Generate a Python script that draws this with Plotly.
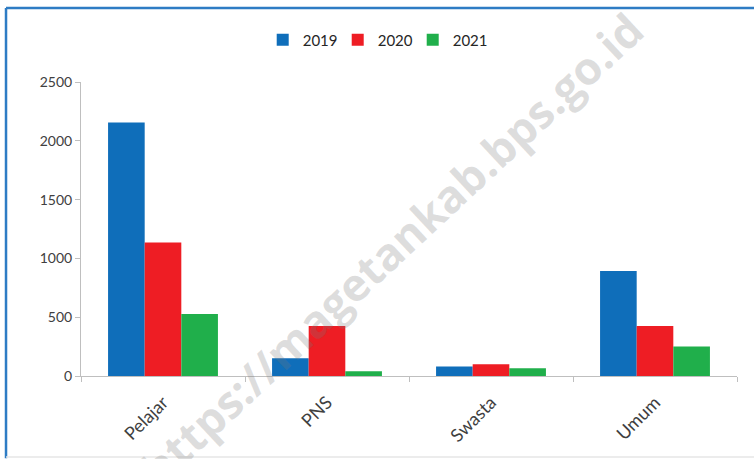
import plotly.graph_objects as go

categories = ["Pelajar", "PNS", "Swasta", "Umum"]
series_names = ["2019", "2020", "2021"]
values_2019 = [2155, 150, 80, 893]
values_2020 = [1135, 425, 100, 425]
values_2021 = [527, 40, 65, 250]
colors = ["#0F6EBA", "#EE1D24", "#20AF4B"]
y_ticks = [0, 500, 1000, 1500, 2000, 2500]

all_values = [values_2019, values_2020, values_2021]

fig = go.Figure()
for name, vals, col in zip(series_names, all_values, colors):
    fig.add_trace(go.Bar(name=name, x=categories, y=vals, marker=dict(color=col, line=dict(width=0))))

font_family = "Lato, 'Liberation Sans', sans-serif"

fig.update_layout(
    width=754, height=459,
    margin=dict(l=81, r=17, t=82, b=83),
    paper_bgcolor="white", plot_bgcolor="white",
    barmode="group", bargap=0.33, bargroupgap=0,
    font=dict(family=font_family, size=14, color="#404040"),
    showlegend=True,
    legend=dict(orientation="h", x=0.277, xanchor="left", y=1.143, yanchor="middle",
                font=dict(size=15, color="#262626"), entrywidth=30, entrywidthmode="pixels",
                itemwidth=30, bgcolor="rgba(0,0,0,0)"),
    xaxis=dict(showgrid=False, showline=True, linecolor="#BFBFBF", linewidth=1,
               ticks="outside", tickson="boundaries", ticklen=5, tickcolor="#BFBFBF",
               tickangle=-45, ticklabelstandoff=8, tickfont=dict(size=18, color="#404040")),
    yaxis=dict(range=[0, 2500], tickvals=y_ticks, showgrid=False, showline=True,
               linecolor="#BFBFBF", linewidth=1, ticks="outside", ticklen=5,
               tickcolor="#BFBFBF", zeroline=False, tickfont=dict(size=14, color="#404040")),
)

# chart frame (blue border top/left, light gray bottom)
fig.add_shape(type="line", xref="paper", yref="paper", x0=-0.1143, x1=1.05, y0=1.2517, y1=1.2517,
              line=dict(color="#2E7CC4", width=2.5))
fig.add_shape(type="line", xref="paper", yref="paper", x0=-0.1143, x1=-0.1143, y0=1.2517, y1=-0.28,
              line=dict(color="#2E7CC4", width=2.5))
fig.add_shape(type="line", xref="paper", yref="paper", x0=-0.1143, x1=1.05, y0=-0.2755, y1=-0.2755,
              line=dict(color="#E6E6E6", width=1.5))

# watermark
fig.add_annotation(text="https://magetankab.bps.go.id", xref="paper", yref="paper",
                   x=0.4726, y=0.435, showarrow=False, textangle=-43,
                   font=dict(family="'Open Sans', sans-serif", size=45, color="rgba(120,120,120,0.25)", weight="bold"))

fig.write_html("out.html", config={"displayModeBar": False},
               post_script="document.body.style.margin='0';document.body.style.overflow='hidden';")
